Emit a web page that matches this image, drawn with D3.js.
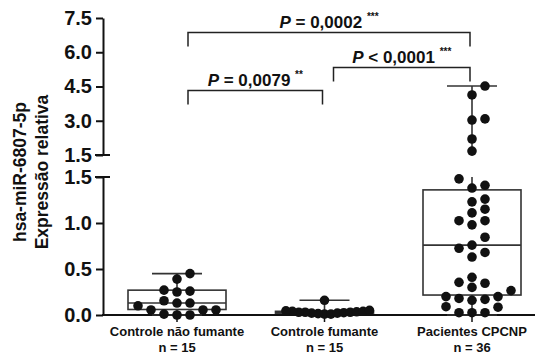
<!DOCTYPE html>
<html>
<head>
<meta charset="utf-8">
<script src="https://cdn.jsdelivr.net/npm/d3@7"></script>
<style>
  html, body { margin: 0; padding: 0; background: #fff; }
  svg { display: block; font-family: "Liberation Sans", Arial, sans-serif; }
</style>
</head>
<body>
<svg id="chart" width="539" height="354"></svg>
<script>
// Groups and sample sizes
const categories = ["Controle não fumante", "Controle fumante", "Pacientes CPCNP"];
const sampleSizes = ["n = 15", "n = 15", "n = 36"];

// Relative expression of hsa-miR-6807-5p per subject
const naoFumante = [0.0, 0.0, 0.01, 0.055, 0.055, 0.055, 0.10, 0.13, 0.13, 0.155, 0.25, 0.26, 0.27, 0.39, 0.45];
const fumante = [0.01, 0.01, 0.015, 0.02, 0.02, 0.025, 0.03, 0.03, 0.03, 0.035, 0.04, 0.04, 0.045, 0.05, 0.16];
const cpcnp = [0.025, 0.025, 0.025, 0.085, 0.09, 0.16, 0.17, 0.18, 0.2, 0.2, 0.265,
               0.30, 0.345, 0.355, 0.41, 0.63, 0.68, 0.725, 0.76, 0.845, 0.98, 1.025, 1.025,
               1.11, 1.15, 1.23, 1.26, 1.38, 1.41, 1.48, 1.67, 2.2, 3.03, 3.08, 4.13, 4.52];

// Box summaries: [min, Q1, median, Q3, max]
const boxStats = [
  [0.0, 0.06, 0.13, 0.27, 0.45],
  [0.0, 0.02, 0.03, 0.04, 0.16],
  [0.0, 0.217, 0.76, 1.36, 4.52]
];

// Axis ticks (broken axis: lower and upper segments)
const lowTicks = [0.0, 0.5, 1.0, 1.5];
const highTicks = [1.5, 3.0, 4.5, 6.0, 7.5];

// Pairwise comparisons
const compFrom = [0, 1, 0];
const compTo = [2, 2, 1];
const compSign = ["=", "<", "="];
const compP = ["0,0002", "0,0001", "0,0079"];
const compStars = ["***", "***", "**"];

const groups = [naoFumante, fumante, cpcnp];

const svg = d3.select("#chart");
const axisX = 103;
const breakAt = 1.5;

const yLow = d3.scaleLinear().domain([0, 1.5]).range([315, 177]);
const yHigh = d3.scaleLinear().domain([1.5, 7.5]).range([155, 18]);
const yOf = v => (v <= breakAt ? yLow(v) : yHigh(v));
const x = d3.scalePoint().domain(categories).range([177, 472]);

const ink = "#111";
const boxW = 98, capW = 50;

// ---- y axes ----
function styleAxis(g) {
  g.select(".domain").attr("stroke", ink).attr("stroke-width", 2);
  g.selectAll(".tick line").attr("stroke", ink).attr("stroke-width", 2);
  g.selectAll(".tick text")
    .attr("fill", ink)
    .attr("font-size", 20)
    .attr("font-weight", "bold")
    .attr("x", -11);
}
const fmt = d3.format(".1f");
svg.append("g").attr("transform", `translate(${axisX},0)`)
  .call(d3.axisLeft(yLow).tickValues(lowTicks).tickFormat(fmt).tickSize(7).tickSizeOuter(0))
  .call(styleAxis);
svg.append("g").attr("transform", `translate(${axisX},0)`)
  .call(d3.axisLeft(yHigh).tickValues(highTicks).tickFormat(fmt).tickSize(7).tickSizeOuter(0))
  .call(styleAxis);

// break caps at the ends of both segments
[yLow(breakAt), yHigh(breakAt)].forEach(yy => {
  svg.append("line")
    .attr("x1", axisX - 8).attr("x2", axisX + 7)
    .attr("y1", yy).attr("y2", yy)
    .attr("stroke", ink).attr("stroke-width", 2);
});

// ---- x axis ----
const xAxisG = svg.append("g").attr("transform", `translate(0,${yLow(0)})`);
xAxisG.append("line")
  .attr("x1", axisX - 1).attr("x2", 535)
  .attr("stroke", ink).attr("stroke-width", 2);
xAxisG.selectAll("line.tick").data(categories).join("line")
  .attr("class", "tick")
  .attr("x1", d => x(d)).attr("x2", d => x(d))
  .attr("y1", 0).attr("y2", 7)
  .attr("stroke", ink).attr("stroke-width", 1.5);
xAxisG.selectAll("text.cat").data(categories).join("text")
  .attr("class", "cat")
  .attr("x", d => x(d)).attr("y", 21)
  .attr("text-anchor", "middle")
  .attr("font-size", 13).attr("font-weight", "bold").attr("fill", ink)
  .text(d => d);
xAxisG.selectAll("text.n").data(sampleSizes).join("text")
  .attr("class", "n")
  .attr("x", (d, i) => x(categories[i])).attr("y", 36.5)
  .attr("text-anchor", "middle")
  .attr("font-size", 13).attr("font-weight", "bold").attr("fill", ink)
  .text(d => d);

// ---- y title ----
const title = svg.append("text")
  .attr("transform", "translate(0,172) rotate(-90)")
  .attr("text-anchor", "middle")
  .attr("font-size", 17.5).attr("font-weight", "bold").attr("fill", ink);
title.append("tspan").attr("x", 0).attr("y", 26).text("hsa-miR-6807-5p");
title.append("tspan").attr("x", 0).attr("y", 48).text("Expressão relativa");

// ---- boxes and whiskers ----
const boxLine = "#333";
// vertical segment between two values, split across the axis break
function vSegment(g, cx, v1, v2) {
  const lo = Math.min(v1, v2), hi = Math.max(v1, v2);
  const parts = [];
  if (lo < breakAt) parts.push([yLow(lo), yLow(Math.min(hi, breakAt))]);
  if (hi > breakAt) parts.push([yHigh(Math.max(lo, breakAt)), yHigh(hi)]);
  parts.forEach(p => g.append("line")
    .attr("x1", cx).attr("x2", cx).attr("y1", p[0]).attr("y2", p[1])
    .attr("stroke", boxLine).attr("stroke-width", 1.6));
}
boxStats.forEach((s, i) => {
  const cx = x(categories[i]);
  const g = svg.append("g");
  const [mn, q1, med, q3, mx] = s;
  vSegment(g, cx, mn, q1);
  vSegment(g, cx, q3, mx);
  g.append("rect")
    .attr("x", cx - boxW / 2).attr("width", boxW)
    .attr("y", yLow(q3)).attr("height", yLow(q1) - yLow(q3))
    .attr("fill", "none").attr("stroke", boxLine).attr("stroke-width", 1.6);
  g.append("line")
    .attr("x1", cx - boxW / 2).attr("x2", cx + boxW / 2)
    .attr("y1", yLow(med)).attr("y2", yLow(med))
    .attr("stroke", boxLine).attr("stroke-width", 1.6);
  [mn, mx].forEach(v => g.append("line")
    .attr("x1", cx - capW / 2).attr("x2", cx + capW / 2)
    .attr("y1", yOf(v)).attr("y2", yOf(v))
    .attr("stroke", boxLine).attr("stroke-width", 1.6));
});

// ---- points: simple grid beeswarm ----
const step = 13, rowGap = 10, maxSpread = 45;
function swarm(values) {
  const pts = values.map(v => ({ v, y: yOf(v) })).sort((a, b) => a.v - b.v);
  const placed = [];
  pts.forEach(p => {
    for (let k = 0; k < 40; k++) {
      const idx = k === 0 ? 0 : (k % 2 ? (k + 1) / 2 : -k / 2);
      const dx = idx * step;
      const hit = placed.some(q => Math.abs(q.dx - dx) < step - 1 && Math.abs(q.y - p.y) < rowGap);
      if (!hit) { p.dx = dx; placed.push(p); break; }
    }
  });
  const spread = d3.max(placed, q => Math.abs(q.dx));
  const k = spread > maxSpread ? maxSpread / spread : 1;
  placed.forEach(q => q.dx *= k);
  return placed;
}
groups.forEach((vals, i) => {
  const cx = x(categories[i]);
  svg.append("g").selectAll("circle").data(swarm(vals)).join("circle")
    .attr("cx", d => cx + d.dx).attr("cy", d => d.y)
    .attr("r", 4.8).attr("fill", ink);
});

// ---- significance brackets ----
const bracketLevels = [6.9, 5.35, 4.35];   // upper-segment values of each bracket
const leftShift = [11, 9, 11], rightShift = [-2, -2, -2];
compP.forEach((p, i) => {
  const x1 = x(categories[compFrom[i]]) + leftShift[i];
  const x2 = x(categories[compTo[i]]) + rightShift[i];
  const yy = Math.round(yHigh(bracketLevels[i])) + 0.5;
  svg.append("path")
    .attr("d", `M${x1},${yy + 14}V${yy}H${x2}V${yy + 14}`)
    .attr("fill", "none").attr("stroke", "#222").attr("stroke-width", 1.5);
  const t = svg.append("text")
    .attr("x", (x1 + x2) / 2).attr("y", yy - 5)
    .attr("text-anchor", "middle")
    .attr("font-size", 17).attr("font-weight", "bold").attr("fill", ink);
  t.append("tspan").attr("font-style", "italic").text("P");
  t.append("tspan").text(` ${compSign[i]} ${p} `);
  t.append("tspan").attr("font-size", 10).attr("dy", -8).text(compStars[i]);
});
</script>
</body>
</html>
